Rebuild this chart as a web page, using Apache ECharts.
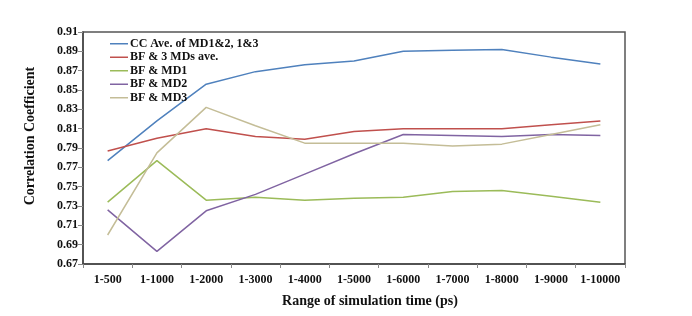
<!DOCTYPE html>
<html>
<head>
<meta charset="utf-8">
<script src="https://cdn.jsdelivr.net/npm/echarts@6/dist/echarts.min.js"></script>
<style>
  html, body { margin: 0; padding: 0; background: #fff; }
  #chart { width: 692px; height: 316px; }
</style>
</head>
<body>
<div id="chart"></div>
<script>
  // categories (simulation time ranges)
  const ranges = ["1-500", "1-1000", "1-2000", "1-3000", "1-4000", "1-5000",
    "1-6000", "1-7000", "1-8000", "1-9000", "1-10000"];

  // series values
  const ccAve = [0.777, 0.818, 0.856, 0.869, 0.876, 0.880, 0.890, 0.891, 0.892, 0.884, 0.877];
  const bf3Ave = [0.787, 0.800, 0.810, 0.802, 0.799, 0.807, 0.810, 0.810, 0.810, 0.814, 0.818];
  const bfMd1 = [0.734, 0.777, 0.736, 0.739, 0.736, 0.738, 0.739, 0.745, 0.746, 0.740, 0.734];
  const bfMd2 = [0.726, 0.683, 0.725, 0.742, 0.763, 0.784, 0.804, 0.803, 0.802, 0.804, 0.803];
  const bfMd3 = [0.700, 0.785, 0.832, 0.813, 0.795, 0.795, 0.795, 0.792, 0.794, 0.804, 0.814];

  // y tick labels
  const yTicks = [0.67, 0.69, 0.71, 0.73, 0.75, 0.77, 0.79, 0.81, 0.83, 0.85, 0.87, 0.89, 0.91];

  const serif = "Liberation Serif";
  const chart = echarts.init(document.getElementById("chart"), null, { renderer: "canvas" });

  const mkLine = (name, data, color) => ({
    name: name,
    type: "line",
    data: data,
    symbol: "none",
    smooth: false,
    lineStyle: { width: 1.5, color: color },
    itemStyle: { color: color },
  });

  chart.setOption({
    backgroundColor: "#fff",
    animation: false,
    grid: {
      left: 83,
      right: 67,
      top: 32,
      bottom: 52,
      show: true,
      borderColor: "#555",
      borderWidth: 1.5,
    },
    legend: {
      orient: "vertical",
      left: 110,
      top: 37,
      padding: 0,
      icon: "rect",
      itemWidth: 18,
      itemHeight: 1.5,
      itemGap: 0,
      textStyle: {
        fontFamily: serif,
        fontWeight: "bold",
        fontSize: 12,
        color: "#111",
        lineHeight: 13.5,
        padding: [0, 0, 0, -3],
      },
    },
    xAxis: {
      type: "category",
      data: ranges,
      boundaryGap: true,
      name: "Range of simulation time (ps)",
      nameLocation: "middle",
      nameGap: 30,
      nameTextStyle: {
        fontFamily: serif,
        fontWeight: "bold",
        fontSize: 14,
        color: "#111",
        padding: [0, 0, 0, 32],
      },
      axisLine: { lineStyle: { color: "#444", width: 1.5 } },
      axisTick: { show: true, length: 4, lineStyle: { color: "#888" } },
      axisLabel: {
        interval: 0,
        margin: 10,
        fontFamily: serif,
        fontWeight: "bold",
        fontSize: 12,
        color: "#111",
      },
      splitLine: { show: false },
    },
    yAxis: {
      type: "value",
      min: 0.67,
      max: 0.91,
      name: "Correlation Coefficient",
      nameLocation: "middle",
      nameGap: 46,
      nameTextStyle: {
        fontFamily: serif,
        fontWeight: "bold",
        fontSize: 14,
        color: "#111",
        padding: [0, 0, 0, 24],
      },
      axisLine: { show: true, lineStyle: { color: "#444", width: 1.5 } },
      axisTick: { show: true, length: 5, customValues: yTicks, lineStyle: { color: "#888" } },
      axisLabel: {
        customValues: yTicks,
        margin: 5,
        fontFamily: serif,
        fontWeight: "bold",
        fontSize: 12,
        color: "#111",
        formatter: (v) => v.toFixed(2),
      },
      splitLine: { show: false },
    },
    series: [
      mkLine("CC Ave. of MD1&2, 1&3", ccAve, "#4f81bd"),
      mkLine("BF & 3 MDs ave.", bf3Ave, "#c0504d"),
      mkLine("BF & MD1", bfMd1, "#9bbb59"),
      mkLine("BF & MD2", bfMd2, "#8064a2"),
      mkLine("BF & MD3", bfMd3, "#c4bd97"),
    ],
  });
</script>
</body>
</html>
